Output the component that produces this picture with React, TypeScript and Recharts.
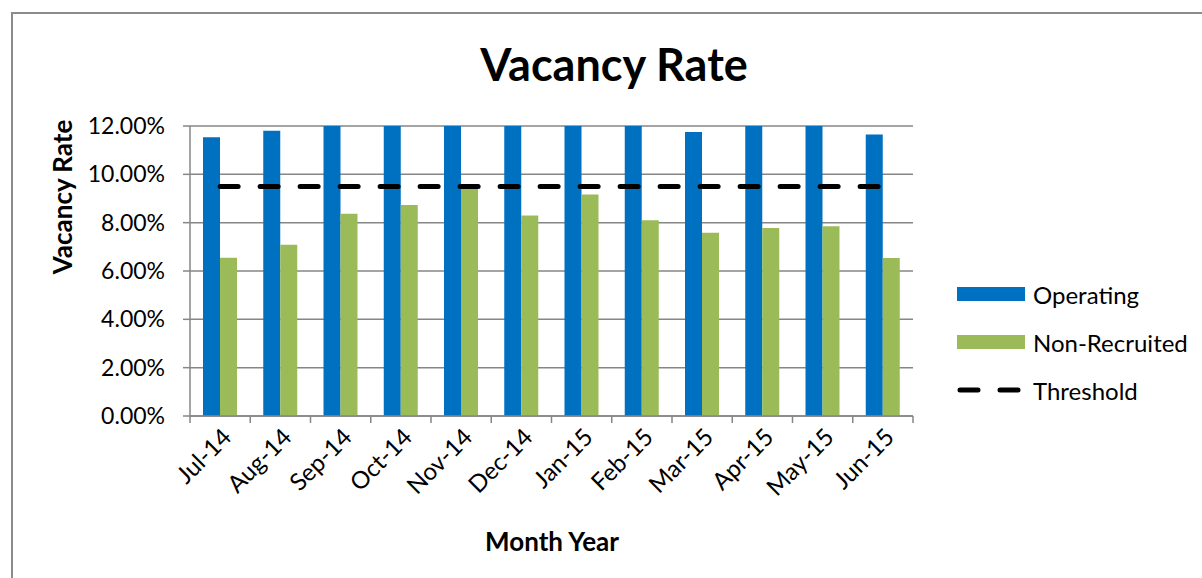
import React from "react";
import {
  ComposedChart,
  Bar,
  Line,
  XAxis,
  YAxis,
  CartesianGrid,
  Legend,
} from "recharts";

const months = [
  "Jul-14", "Aug-14", "Sep-14", "Oct-14", "Nov-14", "Dec-14",
  "Jan-15", "Feb-15", "Mar-15", "Apr-15", "May-15", "Jun-15",
];
// Operating values above 12% are clipped by the axis (as in the reference)
const operating = [0.1153, 0.118, 0.126, 0.128, 0.13, 0.127, 0.129, 0.125, 0.1175, 0.126, 0.128, 0.1165];
const nonRecruited = [0.0655, 0.0709, 0.0837, 0.0873, 0.0942, 0.083, 0.0917, 0.081, 0.0758, 0.0778, 0.0785, 0.0654];
const thresholdValue = 0.095;
const yTicks = [0, 0.02, 0.04, 0.06, 0.08, 0.1, 0.12];

const data = months.map((m, i) => ({
  month: m,
  operating: operating[i],
  nonRecruited: nonRecruited[i],
  threshold: thresholdValue,
}));

const W = 1202;
const H = 578;
const PLOT_LEFT = 190;
const PLOT_RIGHT = 913;
const PLOT_TOP = 126;
const PLOT_BOTTOM = 416;
const FONT = "Lato, 'Liberation Sans', sans-serif";
const GRID = "#868686";
const BLUE = "#0070C0";
const GREEN = "#9BBB59";
const BAND = (PLOT_RIGHT - PLOT_LEFT) / months.length;

const XTick = (props: any) => {
  const { x, y, payload, index } = props;
  const bx = x - BAND / 2;
  const lx = x + 6;
  const ly = y + 16;
  return (
    <g>
      <line x1={bx} y1={y} x2={bx} y2={y + 7} stroke={GRID} strokeWidth={1.5} />
      {index === months.length - 1 && (
        <line x1={x + BAND / 2} y1={y} x2={x + BAND / 2} y2={y + 7} stroke={GRID} strokeWidth={1.5} />
      )}
      <text
        x={lx}
        y={ly}
        textAnchor="end"
        dominantBaseline="central"
        transform={`rotate(-45, ${lx}, ${ly})`}
        fontFamily={FONT}
        fontSize={24}
        fill="#000"
      >
        {payload.value}
      </text>
    </g>
  );
};

const LegendContent = () => (
  <div style={{ fontFamily: FONT, fontSize: 24, color: "#000" }}>
    <div style={{ display: "flex", alignItems: "center", height: 48 }}>
      <div style={{ width: 68, height: 14, background: BLUE, marginRight: 8 }} />
      <span>Operating</span>
    </div>
    <div style={{ display: "flex", alignItems: "center", height: 48 }}>
      <div style={{ width: 68, height: 14, background: GREEN, marginRight: 8 }} />
      <span>Non-Recruited</span>
    </div>
    <div style={{ display: "flex", alignItems: "center", height: 48 }}>
      <svg width={68} height={14} style={{ marginRight: 8 }}>
        <line x1={3} y1={7} x2={66} y2={7} stroke="#000" strokeWidth={5} strokeDasharray="18 22" strokeLinecap="round" />
      </svg>
      <span>Threshold</span>
    </div>
  </div>
);

export default function App() {
  return (
    <div style={{ position: "fixed", left: 0, top: 0, width: W, height: H, overflow: "hidden", background: "#fff" }}>
      <div
        style={{
          position: "absolute",
          left: 11,
          top: 12,
          width: 1400,
          height: 800,
          border: "2px solid #8c8c8c",
          boxSizing: "border-box",
        }}
      />
      <div
        style={{
          position: "absolute",
          left: 0,
          width: 1228,
          top: 36,
          textAlign: "center",
          fontFamily: FONT,
          fontWeight: 700,
          fontSize: 45,
          lineHeight: "56px",
          color: "#000",
        }}
      >
        Vacancy Rate
      </div>
      <div style={{ position: "absolute", left: 0, top: 0 }}>
        <ComposedChart
          width={W}
          height={H}
          data={data}
          margin={{ top: PLOT_TOP, right: W - PLOT_RIGHT, left: 0, bottom: 0 }}
          barSize={17}
          barGap={0}
        >
          <CartesianGrid horizontal vertical={false} stroke={GRID} strokeWidth={1.5} />
          <XAxis
            dataKey="month"
            height={H - PLOT_BOTTOM}
            axisLine={{ stroke: GRID, strokeWidth: 1.5 }}
            tickLine={false}
            tickSize={0}
            tickMargin={0}
            interval={0}
            tick={<XTick />}
            label={() => (
              <text
                x={552}
                y={541}
                textAnchor="middle"
                dominantBaseline="central"
                fontFamily={FONT}
                fontWeight={700}
                fontSize={26}
                fill="#000"
              >
                Month Year
              </text>
            )}
          />
          <YAxis
            width={PLOT_LEFT}
            domain={[0, 0.12]}
            allowDataOverflow
            ticks={yTicks}
            tickFormatter={(v: number) => (v * 100).toFixed(2) + "%"}
            axisLine={{ stroke: GRID, strokeWidth: 1.5 }}
            tickLine={{ stroke: GRID, strokeWidth: 1.5 }}
            tickSize={7}
            tickMargin={18}
            tick={{ fontFamily: FONT, fontSize: 23, fill: "#000" }}
            label={() => (
              <text
                x={62}
                y={197}
                textAnchor="middle"
                dominantBaseline="central"
                transform="rotate(-90, 62, 197)"
                fontFamily={FONT}
                fontWeight={700}
                fontSize={26}
                fill="#000"
              >
                Vacancy Rate
              </text>
            )}
          />
          <Bar dataKey="operating" name="Operating" fill={BLUE} isAnimationActive={false} />
          <Bar dataKey="nonRecruited" name="Non-Recruited" fill={GREEN} isAnimationActive={false} />
          <Line
            dataKey="threshold"
            name="Threshold"
            stroke="#000"
            strokeWidth={5}
            strokeDasharray="18 22"
            strokeLinecap="round"
            dot={false}
            activeDot={false}
            isAnimationActive={false}
          />
          <Legend
            layout="vertical"
            align="center"
            verticalAlign="middle"
            content={<LegendContent />}
            wrapperStyle={{ position: "absolute", left: 957, top: 270, width: 240 }}
          />
        </ComposedChart>
      </div>
    </div>
  );
}
